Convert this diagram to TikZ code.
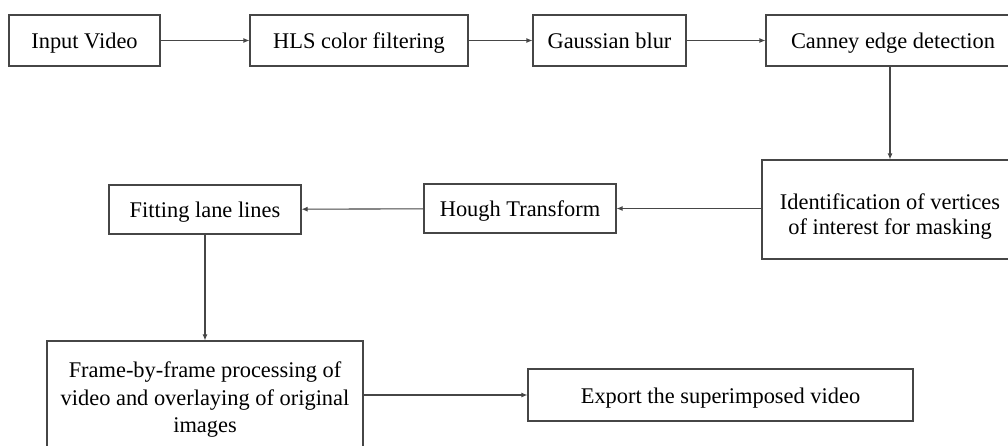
\documentclass[tikz,border=0pt]{standalone}
\usepackage{fontspec}
\setmainfont{Liberation Serif}
\usetikzlibrary{arrows.meta}
\definecolor{edge}{RGB}{70,70,70}
\begin{document}
\begin{tikzpicture}[x=1pt,y=-1pt,
  box/.style={draw=edge, line width=1.1pt, inner sep=0pt, align=center,
    font=\fontsize{22.4}{26}\selectfont, text=black, text height=18pt, text depth=2pt},
  mbox/.style={draw=edge, line width=1.1pt, inner sep=0pt},
  txt/.style={inner sep=0pt, align=center, text=black},
  arr/.style={draw=edge, line width=1.1pt, -{Latex[length=6pt,width=5pt]}},
  ln/.style={draw=edge, line width=1.1pt}]
\useasboundingbox (0,0) rectangle (1008,445);
\clip (0,0) rectangle (1008,445);
\fill[white] (0,0) rectangle (1008,445);
\node[box, minimum width=151pt, minimum height=51pt] (in) at (84.5,40.5) {Input Video};
\node[box, minimum width=218pt, minimum height=51pt] (hls) at (359,40.5) {HLS color filtering};
\node[box, minimum width=153pt, minimum height=51pt] (gb) at (609.5,40.5) {Gaussian blur};
\node[box, minimum width=254pt, minimum height=51pt] (can) at (893,40.5) {Canney edge detection};
\node[mbox, minimum width=256pt, minimum height=99pt] (idf) at (890,209.5) {};
\node[txt, font=\fontsize{22.4}{25}\selectfont] (idft) at (890,216.5) {Identification of vertices\\of interest for masking};
\node[box, minimum width=192pt, minimum height=49pt] (ht) at (520,208.5) {Hough Transform};
\node[box, minimum width=192pt, minimum height=49pt] (fit) at (205,209.5) {Fitting lane lines};
\node[mbox, minimum width=316pt, minimum height=108pt] (frm) at (205,395) {};
\node[txt, font=\fontsize{22.4}{27.5}\selectfont] (frmt) at (205,400) {Frame-by-frame processing of\\video and overlaying of original\\images};
\node[box, minimum width=385pt, minimum height=52pt] (exp) at (720.5,395) {Export the superimposed video};
\draw[arr] (in) -- (hls);
\draw[arr] (hls) -- (gb);
\draw[arr] (gb) -- (can);
\draw[arr] (idf.north |- can.south) -- (idf.north);
\draw[arr] (idf.west |- ht.east) -- (ht.east);
\draw[arr] (ht) -- (fit);
\draw[arr] (fit) -- (fit |- frm.north);
\draw[arr] (frm) -- (exp);
\end{tikzpicture}
\end{document}
